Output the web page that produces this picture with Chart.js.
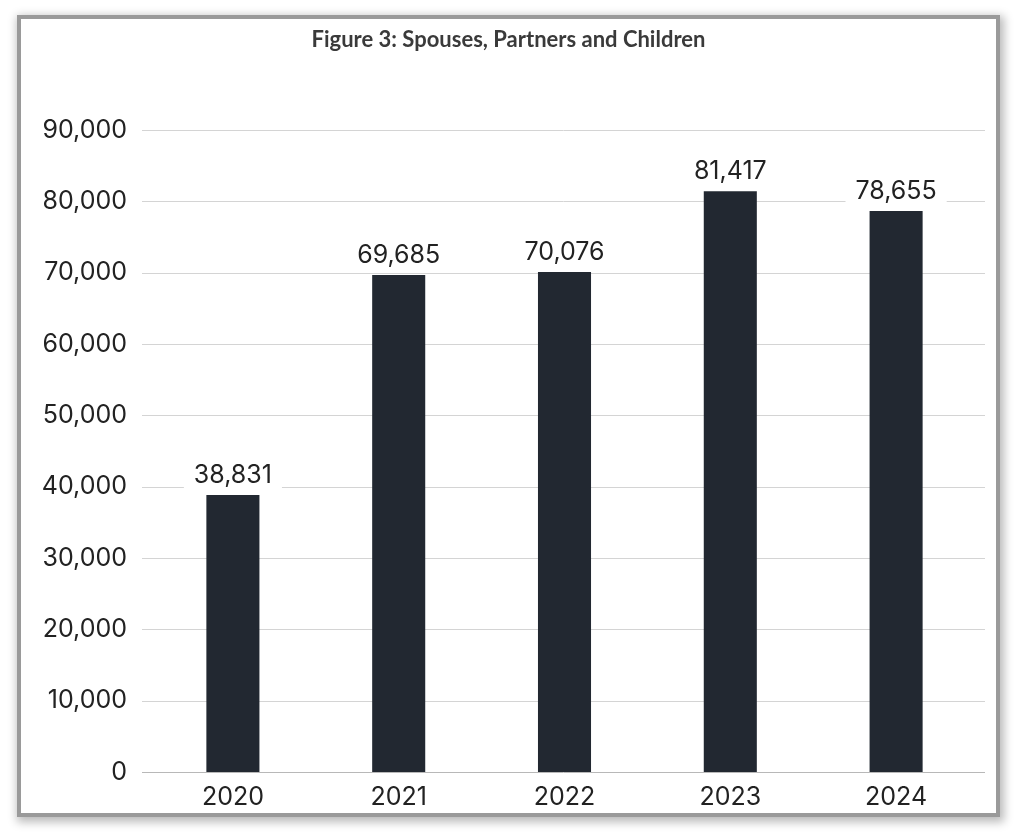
<!DOCTYPE html>
<html>
<head>
<meta charset="utf-8">
<script src="https://cdn.jsdelivr.net/npm/chart.js@4"></script>
<style>
  html, body { margin: 0; padding: 0; background: #fff; }
  .frame {
    position: absolute;
    left: 21px; top: 19px;
    width: 975px; height: 794px;
    background: #fff;
    box-shadow: 0 0 0 4px #9a9a9a, 2px 3px 9px 6px rgba(0,0,0,0.28);
  }
</style>
</head>
<body>
<div class="frame"><canvas id="figChart"></canvas></div>
<script>
// chart data
const years = ['2020', '2021', '2022', '2023', '2024'];
const people = [38831, 69685, 70076, 81417, 78655];
const yTicks = [0, 10000, 20000, 30000, 40000, 50000, 60000, 70000, 80000, 90000];

const fmt = v => v.toLocaleString('en-US');

// horizontal grid lines, a little wider than the plot area
const gridLines = {
  id: 'gridLines',
  beforeDatasetsDraw(chart) {
    const { ctx, chartArea, scales } = chart;
    ctx.save();
    ctx.lineWidth = 1;
    yTicks.forEach(t => {
      const y = Math.round(scales.y.getPixelForValue(t)) + 0.5;
      ctx.strokeStyle = t === 0 ? '#b8b8b8' : '#d4d4d4';
      ctx.beginPath();
      ctx.moveTo(chartArea.left - 8, y);
      ctx.lineTo(chartArea.right + 6, y);
      ctx.stroke();
    });
    ctx.restore();
  }
};

// value labels on a white box above each bar
const barLabels = {
  id: 'barLabels',
  afterDatasetsDraw(chart) {
    const { ctx } = chart;
    const meta = chart.getDatasetMeta(0);
    ctx.save();
    ctx.font = '25px Inter';
    ctx.textAlign = 'center';
    ctx.textBaseline = 'alphabetic';
    meta.data.forEach((bar, i) => {
      const txt = fmt(people[i]);
      const w = ctx.measureText(txt).width;
      const base = bar.y - 12;
      ctx.fillStyle = '#fff';
      ctx.fillRect(bar.x - w / 2 - 10, base - 24, w + 20, 31);
      ctx.fillStyle = '#222';
      ctx.fillText(txt, bar.x, base);
    });
    ctx.restore();
  }
};

new Chart(document.getElementById('figChart'), {
  type: 'bar',
  data: {
    labels: years,
    datasets: [{
      data: people,
      backgroundColor: '#222831',
      barPercentage: 0.32,
      categoryPercentage: 1
    }]
  },
  plugins: [gridLines, barLabels],
  options: {
    responsive: true,
    maintainAspectRatio: false,
    animation: false,
    layout: { padding: { top: 8, right: 17, bottom: 1, left: 17 } },
    scales: {
      x: {
        afterFit(scale) { scale.height = 40; },
        grid: { display: false, drawTicks: false },
        border: { display: false },
        ticks: { color: '#222', font: { family: 'Inter', size: 25 }, padding: 10 }
      },
      y: {
        min: 0,
        max: 90000,
        afterFit(scale) { scale.width = 112; },
        grid: { display: false, drawTicks: false },
        border: { display: false },
        ticks: {
          stepSize: 10000,
          padding: 23,
          color: '#222',
          font: { family: 'Inter', size: 25 },
          callback: v => fmt(v)
        }
      }
    },
    plugins: {
      legend: { display: false },
      tooltip: { enabled: false },
      title: {
        display: true,
        text: 'Figure 3: Spouses, Partners and Children',
        color: '#3a3a3a',
        font: { family: 'Lato', size: 22, weight: 'bold' },
        padding: { top: 0, bottom: 76.6 }
      }
    }
  }
});
</script>
</body>
</html>
